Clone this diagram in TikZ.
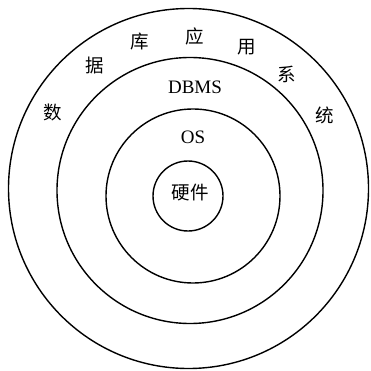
\documentclass[tikz,border=0pt]{standalone}
\usepackage{fontspec}
\setmainfont{Liberation Serif}
\newfontfamily\cjk{Noto Sans CJK SC}
\begin{document}
\begin{tikzpicture}[x=1pt,y=-1pt,
  ring/.style={draw=black,line width=1.4pt},
  cn/.style={font=\cjk\fontsize{18.5}{18.5}\selectfont,inner sep=0pt},
  en/.style={font=\fontsize{19}{19}\selectfont,inner sep=0pt}]
\useasboundingbox (0,0) rectangle (370,371);
\coordinate (c1) at (188.5,188.5);
\coordinate (c2) at (190,190.5);
\coordinate (c3) at (193,196);
\coordinate (c4) at (188,196);
\draw[ring] (c1) circle[radius=180];
\draw[ring] (c2) circle[radius=133];
\draw[ring] (c3) circle[radius=87];
\draw[ring] (c4) circle[radius=35];
\node[cn] (t1) at (53,112) {数};
\node[cn] (t2) at (95,65) {据};
\node[cn] (t3) at (140,42) {库};
\node[cn] (t4) at (195,36) {应};
\node[cn] (t5) at (247,47) {用};
\node[cn] (t6) at (287,74) {系};
\node[cn] (t7) at (325,115) {统};
\node[en] (dbms) at (195,87) {DBMS};
\node[en] (os) at (193,137) {OS};
\node[cn] (hw) at (190,193) {硬件};
\end{tikzpicture}
\end{document}
